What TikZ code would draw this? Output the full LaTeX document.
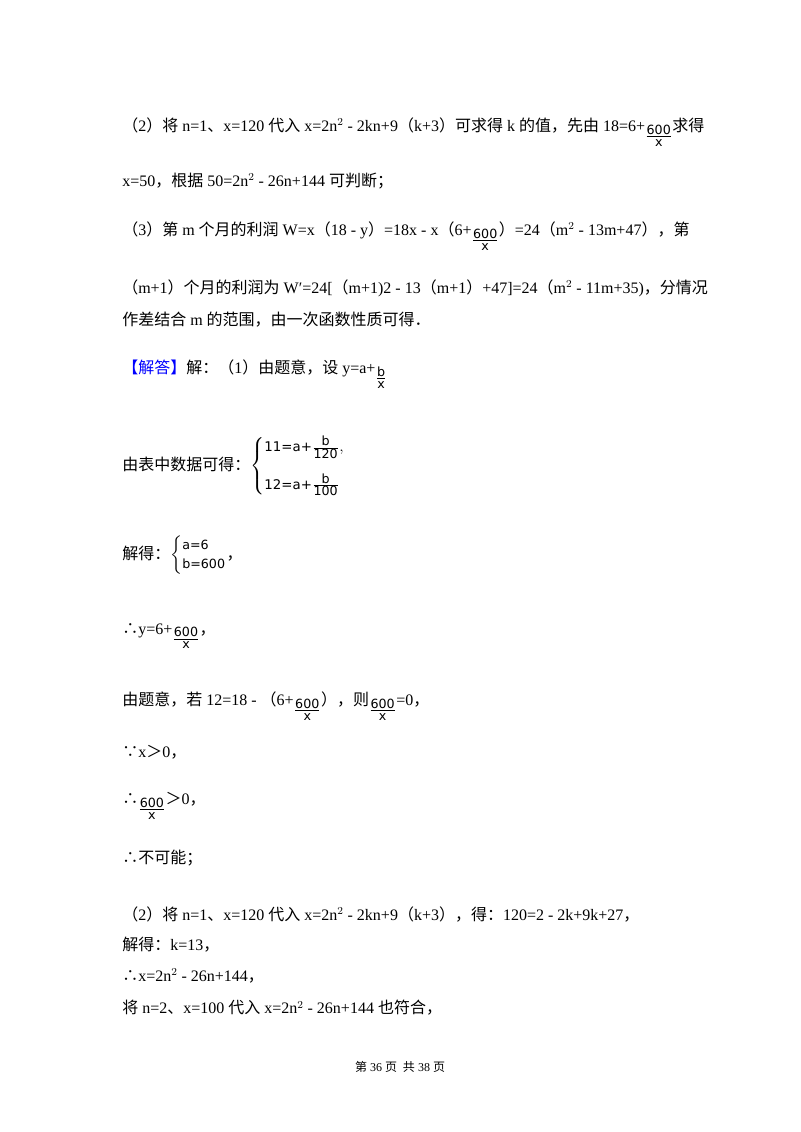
\documentclass[tikz,border=0pt]{standalone}
\usepackage{amsmath}
\usepackage{fontspec}
\setmainfont{Liberation Serif}
\setsansfont{DejaVu Sans}
\newfontfamily\cjk{Noto Sans CJK SC}
\XeTeXinterchartokenstate=1
\newXeTeXintercharclass\CJKcls
\count255="4E00 \loop \XeTeXcharclass\count255=\CJKcls \advance\count255 1 \ifnum\count255<"A000 \repeat
\count255="3000 \loop \XeTeXcharclass\count255=\CJKcls \advance\count255 1 \ifnum\count255<"3040 \repeat
\count255="FF00 \loop \XeTeXcharclass\count255=\CJKcls \advance\count255 1 \ifnum\count255<"FF60 \repeat
\XeTeXcharclass"2234=\CJKcls \XeTeXcharclass"2235=\CJKcls
\XeTeXinterchartoks 0 \CJKcls={\begingroup\cjk}
\XeTeXinterchartoks 4095 \CJKcls={\begingroup\cjk}
\XeTeXinterchartoks \CJKcls 0={\endgroup}
\XeTeXinterchartoks \CJKcls 4095={\endgroup}
\newcommand\frr[2]{\ensuremath{\genfrac{}{}{0.5pt}{}{\text{\sffamily\fontsize{9.5pt}{10pt}\selectfont #1}}{\text{\sffamily\fontsize{9.5pt}{10pt}\selectfont #2}}}}
\newcommand\fr[2]{\raisebox{-0.55em}{\frr{#1}{#2}}}
\tikzset{ln/.style={anchor=west,inner sep=0pt,font=\fontsize{12pt}{14pt}\selectfont}}
\begin{document}
\begin{tikzpicture}[x=0.75pt,y=-0.75pt]
\useasboundingbox (0,0) rectangle (800,1132);
\fill[white] (0,0) rectangle (800,1132);
\node[ln] (l1) at (122,132) {（2）将 n=1、x=120 代入 x=2n$^2$ - 2kn+9（k+3）可求得 k 的值，先由 18=6+\fr{600}{x}求得};
\node[ln] (l2) at (122,181) {x=50，根据 50=2n$^2$ - 26n+144 可判断；};
\node[ln] (l3) at (122,236) {（3）第 m 个月的利润 W=x（18 - y）=18x - x（6+\fr{600}{x}）=24（m$^2$ - 13m+47），第};
\node[ln] (l4) at (122,288) {（m+1）个月的利润为 W′=24[（m+1)2 - 13（m+1）+47]=24（m$^2$ - 11m+35)，分情况};
\node[ln] (l5) at (122,320) {作差结合 m 的范围，由一次函数性质可得．};
\node[ln] (l6) at (122,374) {\textcolor{blue}{【解答】}解：（1）由题意，设 y=a+\fr{b}{x}};
\node[ln] (l7) at (122,466) {由表中数据可得：$\left\{\begin{array}{@{}l@{}}\text{\sffamily\fontsize{10pt}{11pt}\selectfont 11=a+}\frr{b}{120},\\[12pt] \text{\sffamily\fontsize{10pt}{11pt}\selectfont 12=a+}\frr{b}{100}\end{array}\right.$};
\node[ln] (l8) at (122,555) {解得：$\left\{\begin{array}{@{}l@{}}\text{\sffamily\fontsize{9.5pt}{10pt}\selectfont a=6}\\ \text{\sffamily\fontsize{9.5pt}{10pt}\selectfont b=600}\end{array}\right.$，};
\node[ln] (l9) at (122,636) {∴y=6+\fr{600}{x}，};
\node[ln] (l10) at (122,706) {由题意，若 12=18 - （6+\fr{600}{x}），则\fr{600}{x}=0，};
\node[ln] (l11) at (122,752) {∵x＞0，};
\node[ln] (l12) at (122,806) {∴\fr{600}{x}＞0，};
\node[ln] (l13) at (122,858) {∴不可能；};
\node[ln] (l14) at (122,914) {（2）将 n=1、x=120 代入 x=2n$^2$ - 2kn+9（k+3），得：120=2 - 2k+9k+27，};
\node[ln] (l15) at (122,945) {解得：k=13，};
\node[ln] (l16) at (122,976) {∴x=2n$^2$ - 26n+144，};
\node[ln] (l17) at (122,1008) {将 n=2、x=100 代入 x=2n$^2$ - 26n+144 也符合，};
\node[inner sep=0pt,font=\fontsize{9pt}{11pt}\selectfont] (ft) at (400,1067) {第 36 页~~共 38 页};
\end{tikzpicture}
\end{document}
